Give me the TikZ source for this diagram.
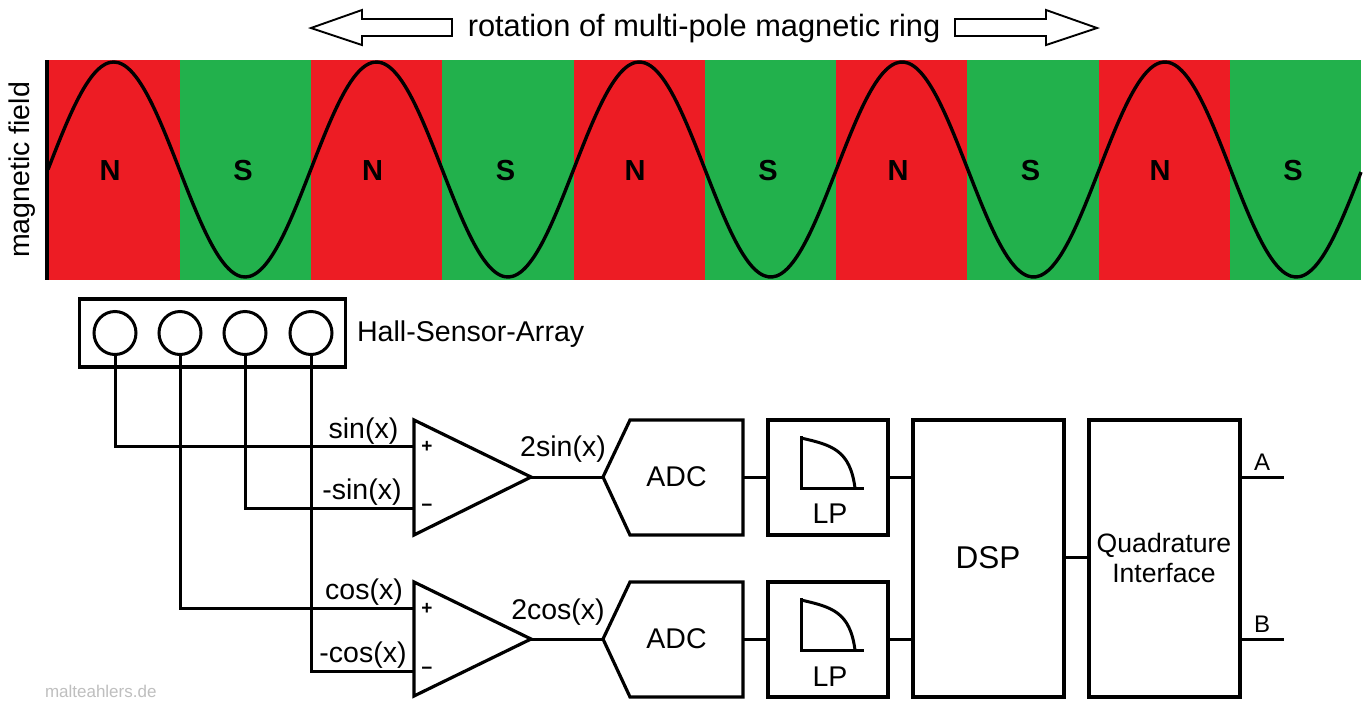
\documentclass[tikz,border=0pt]{standalone}
\usepackage{fontspec}
\setmainfont{Liberation Sans}
\usetikzlibrary{shapes.geometric}
\definecolor{polered}{HTML}{ED1C24}
\definecolor{polegreen}{HTML}{22B14C}
\tikzset{
  every node/.style={inner sep=0pt,outer sep=0pt},
  wire/.style={line width=3pt,line cap=butt,line join=miter},
  outline/.style={line width=3.2pt,line join=miter},
  thinoutline/.style={line width=1.9pt,line join=miter},
  blockbox/.style={draw,line width=3.2pt,fill=white,anchor=north west},
  sensorcircle/.style={draw,ellipse,line width=3pt,minimum width=42pt,minimum height=43pt},
  lbl/.style={font=\fontsize{28.5}{28.5}\selectfont},
  pole/.style={font=\fontsize{29}{29}\bfseries\selectfont},
  sign/.style={font=\fontsize{19}{19}\bfseries\selectfont}
}
\begin{document}
\begin{tikzpicture}[x=1pt,y=-1pt]
\useasboundingbox[fill=white] (0,0) rectangle (1368,702);
% Band
\foreach \i/\xa/\xb in {0/48/180,1/311/442,2/574/705,3/836/967,4/1099/1230}{
  \fill[polered] (\xa,60) rectangle (\xb,280);
}
\foreach \xa/\xb in {180/311,442/574,705/836,967/1099,1230/1361}{
  \fill[polegreen] (\xa,60) rectangle (\xb,280);
}
\fill[black] (45,60) rectangle (48.5,280);
\draw[line width=3.4pt,line join=round] plot[domain=48:1361,samples=320,smooth] (\x,{169.5-107.5*sin((\x-48)/262.8*360)});
\foreach \n/\x in {n1/110,n2/372.5,n3/635,n4/898,n5/1160}{
  \node[pole] (\n) at (\x,170.5) {N};
}
\foreach \n/\x in {s1/243,s2/505.5,s3/768,s4/1030.5,s5/1293}{
  \node[pole] (\n) at (\x,170.5) {S};
}
\node[lbl,rotate=90] (field) at (22,170) {magnetic field};
% Top
\node[font=\fontsize{30.8}{30.8}\selectfont] (title) at (704,29) {rotation of multi-pole magnetic ring};
\draw[thinoutline,fill=white] (311,28) -- (362,10) -- (362,19) -- (452,19) -- (452,36) -- (362,36) -- (362,45) -- cycle;
\draw[thinoutline,fill=white] (1097,28) -- (1046,10) -- (1046,19) -- (955,19) -- (955,36) -- (1046,36) -- (1046,45) -- cycle;
% Hall array
\node[blockbox,minimum width=266pt,minimum height=68pt] (hall) at (79.5,299) {};
\node[sensorcircle] (h1) at (115,333) {};
\node[sensorcircle] (h2) at (180,333) {};
\node[sensorcircle] (h3) at (245,333) {};
\node[sensorcircle] (h4) at (311,333) {};
\node[font=\fontsize{28.6}{28.6}\selectfont,anchor=west] (halllabel) at (357,334) {Hall-Sensor-Array};
% Amplifier inputs
\coordinate (a1p) at (414,446);
\coordinate (a1m) at (414,508);
\coordinate (a2p) at (414,608);
\coordinate (a2m) at (414,671);
\coordinate (a1o) at (531,477);
\coordinate (a2o) at (531,639);
\draw[wire] (h1.south) |- (a1p);
\draw[wire] (h2.south) |- (a2p);
\draw[wire] (h3.south) |- (a1m);
\draw[wire] (h4.south) |- (a2m);
% Amplifiers
\draw[outline,fill=white] (414,420) -- (a1o) -- (414,535) -- cycle;
\draw[outline,fill=white] (414,582) -- (a2o) -- (414,696) -- cycle;
\node[sign] (p1) at (427,447) {+};
\node[sign] (m1) at (427,508) {−};
\node[sign] (p2) at (427,609) {+};
\node[sign] (m2) at (427,671) {−};
\node[lbl] (t1) at (363.5,431) {sin(x)};
\node[lbl] (t2) at (362,492) {-sin(x)};
\node[lbl] (t3) at (364,592) {cos(x)};
\node[lbl] (t4) at (363,655) {-cos(x)};
\node[lbl] (t5) at (563,449) {2sin(x)};
\node[lbl] (t6) at (558,612) {2cos(x)};
% ADC
\coordinate (adc1i) at (603,477);
\coordinate (adc2i) at (603,639);
\coordinate (adc1o) at (743,477);
\coordinate (adc2o) at (743,639);
\draw[outline,fill=white] (adc1i) -- (630,420) -- (743,420) -- (743,535) -- (630,535) -- cycle;
\draw[outline,fill=white] (adc2i) -- (630,582) -- (743,582) -- (743,697) -- (630,697) -- cycle;
\node[lbl] (adc1) at (676.5,477) {ADC};
\node[lbl] (adc2) at (676.5,639) {ADC};
% LP
\node[blockbox,minimum width=120pt,minimum height=115pt] (lp1) at (768,420) {};
\node[blockbox,minimum width=120pt,minimum height=115pt] (lp2) at (768,582) {};
\foreach \d in {0,162}{
  \draw[line width=3pt] (801,436+\d) -- (801,488+\d) -- (864,488+\d);
  \draw[line width=3pt] (801,438+\d) .. controls (832,445+\d) and (850,450+\d) .. (855,488+\d);
}
\node[lbl] (lpt1) at (830,514) {LP};
\node[lbl] (lpt2) at (830,677) {LP};
% DSP, interface
\node[blockbox,minimum width=151pt,minimum height=277pt] (dsp) at (913,420) {};
\node[font=\fontsize{31.5}{31.5}\selectfont] (dspt) at (988,558) {DSP};
\node[blockbox,minimum width=151pt,minimum height=277pt] (qi) at (1089,420) {};
\node[font=\fontsize{26.6}{26.6}\selectfont,align=center] (qit) at (1164,558) {Quadrature\\[3pt]Interface};
% Connections
\coordinate (dsp1) at (913,477);
\coordinate (dsp2) at (913,639);
\coordinate (dspo) at (1064,557);
\coordinate (qii) at (1089,557);
\coordinate (qa) at (1240,477);
\coordinate (qb) at (1240,639);
\coordinate (oa) at (1284,477);
\coordinate (ob) at (1284,639);
\draw[wire] (a1o) -- (adc1i);
\draw[wire] (a2o) -- (adc2i);
\draw[wire] (adc1o) -- (lp1.west |- adc1o);
\draw[wire] (adc2o) -- (lp2.west |- adc2o);
\draw[wire] (lp1.east |- dsp1) -- (dsp1);
\draw[wire] (lp2.east |- dsp2) -- (dsp2);
\draw[wire] (dspo) -- (qii);
\draw[wire] (qa) -- (oa);
\draw[wire] (qb) -- (ob);
\node[font=\fontsize{24}{24}\selectfont] (la) at (1262,462) {A};
\node[font=\fontsize{24}{24}\selectfont] (lb) at (1262,624) {B};
\node[font=\fontsize{17}{17}\selectfont,text=black!25,anchor=west] (wm) at (45,691) {malteahlers.de};
\end{tikzpicture}
\end{document}
